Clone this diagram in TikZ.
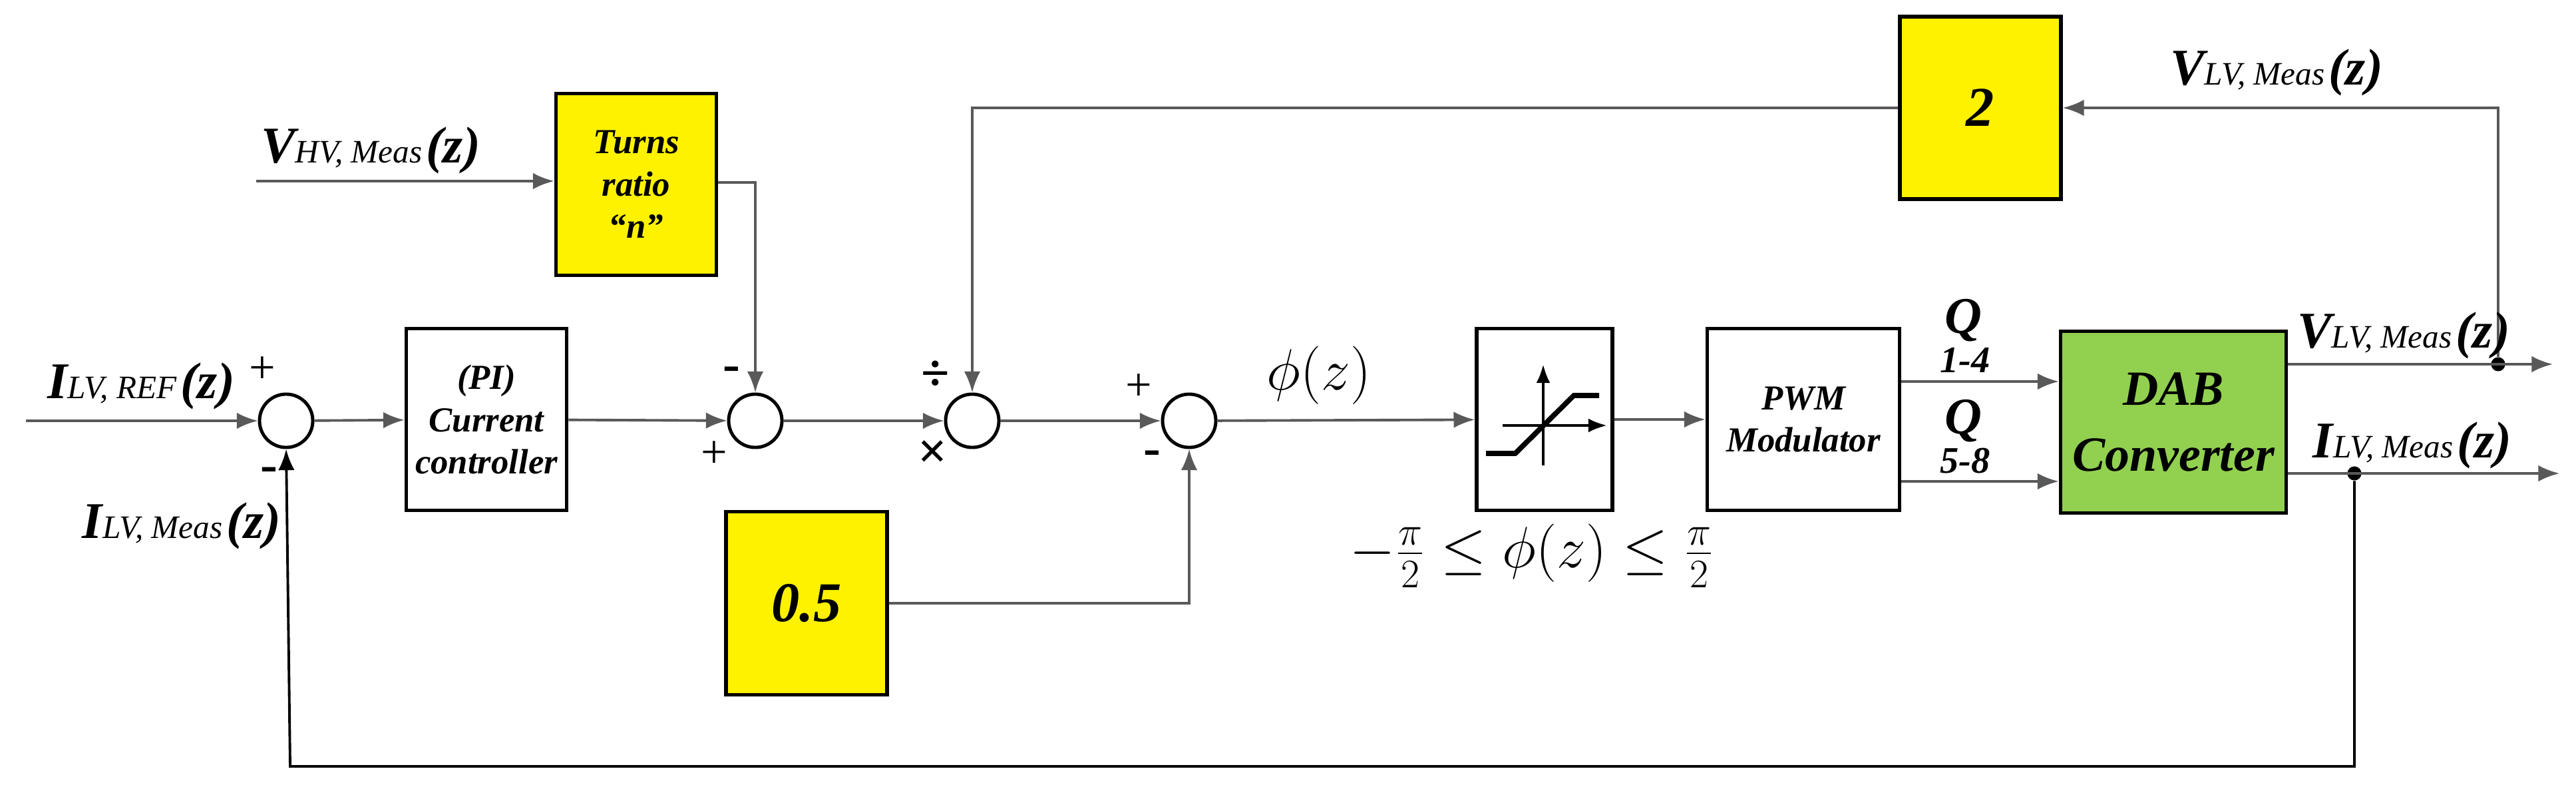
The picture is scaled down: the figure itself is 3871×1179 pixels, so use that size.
\documentclass[tikz,border=0pt]{standalone}
\usepackage{fontspec}
\setmainfont{Liberation Serif}
\usetikzlibrary{arrows.meta}
\definecolor{dabgreen}{RGB}{146,208,80}
\newcommand{\sig}[2]{{\fontsize{22}{24}\selectfont\bfseries\itshape #1}{\fontsize{14}{16}\selectfont\itshape #2}\,{\fontsize{22}{24}\selectfont\bfseries\itshape (z)}}
\begin{document}
\begin{tikzpicture}[x=0.01cm,y=-0.01cm,
  blk/.style={draw=black,line width=1.6pt,inner sep=0pt,align=center,font=\bfseries\itshape\fontsize{15}{18}\selectfont},
  ybl/.style={blk,fill=yellow},
  sum/.style={draw=black,line width=1.4pt,circle,minimum size=0.8cm,inner sep=0pt},
  con/.style={draw=black!65,line width=1.1pt},
  arr/.style={con,-{Latex[length=9pt,width=7pt]}},
  sg/.style={font=\fontsize{20}{22}\selectfont},
  sgb/.style={font=\bfseries\fontsize{22}{22}\selectfont},
  dot/.style={circle,fill=black,inner sep=0pt,minimum size=6pt}]
\path[use as bounding box,fill=white] (0,0) rectangle (3871,1179);
% blocks
\node[ybl,minimum width=2.41cm,minimum height=2.73cm] (tr) at (956,277) {Turns\\ratio\\``n''};
\node[blk,minimum width=2.41cm,minimum height=2.73cm] (pi) at (731,630) {(PI)\\Current\\controller};
\node[ybl,minimum width=2.42cm,minimum height=2.75cm,font=\bfseries\itshape\fontsize{24}{26}\selectfont] (half) at (1212,906) {0.5};
\node[ybl,minimum width=2.42cm,minimum height=2.74cm,font=\bfseries\itshape\fontsize{24}{26}\selectfont] (two) at (2976,162) {2};
\node[blk,minimum width=2.04cm,minimum height=2.73cm] (sat) at (2321,630) {};
\node[blk,minimum width=2.89cm,minimum height=2.73cm] (pwm) at (2710,630) {PWM\\Modulator};
\node[blk,fill=dabgreen,minimum width=3.39cm,minimum height=2.73cm,font=\bfseries\itshape\fontsize{21}{28}\selectfont] (dab) at (3266,634) {DAB\\Converter};
% saturation symbol
\draw[line width=1.3pt,-{Latex[length=8pt,width=6pt]}] (2319,699) -- (2319,547);
\draw[line width=1.3pt,-{Latex[length=8pt,width=6pt]}] (2258,639) -- (2415,639);
\draw[line width=2.2pt] (2233,681) -- (2277,681) -- (2365,594) -- (2403,594);
% sums
\node[sum] (s1) at (430,632) {};
\node[sum] (s2) at (1135,632) {};
\node[sum] (s3) at (1461,632) {};
\node[sum] (s4) at (1787,632) {};
% coordinates
\coordinate (in) at (39,632);
\coordinate (vin) at (385,272);
\coordinate (vo) at (3836,547);
\coordinate (io) at (3846,711);
\node[dot] (dv) at (3754,547) {};
\node[dot] (di) at (3538,711) {};
% connectors
\draw[arr] (in) -- (s1);
\draw[arr] (s1) -- (pi);
\draw[arr] (pi) -- (s2);
\draw[arr] (s2) -- (s3);
\draw[arr] (s3) -- (s4);
\draw[arr] (s4) -- (sat);
\draw[arr] (sat) -- (pwm);
\draw[arr] (vin) -- (tr.west |- vin);
\draw[arr] (tr.east |- 0,274) -| (s2.north);
\draw[arr] (two.west) -| (s3.north);
\draw[arr] (half.east) -| (s4.south);
\draw[arr] (pwm.east |- 0,573) -- (dab.west |- 0,573);
\draw[arr] (pwm.east |- 0,723) -- (dab.west |- 0,723);
\draw[arr] (dab.east |- dv) -- (vo);
\draw[arr] (dab.east |- di) -- (io);
\draw[arr] (dv) |- (two.east);
\draw[arr,draw=black] (di) |- (436,1151) -- (s1.south);
% labels
\node at (557,226) {\sig{V}{HV, Meas}};
\node at (212,580) {\sig{I}{LV, REF}};
\node at (273,790) {\sig{I}{LV, Meas}};
\node at (3421,109) {\sig{V}{LV, Meas}};
\node at (3612,504) {\sig{V}{LV, Meas}};
\node at (3625,669) {\sig{I}{LV, Meas}};
\node[sg] at (394,556) {+};
\node[sgb] at (404,713) {-};
\node[sgb] at (1099,562) {-};
\node[sg] at (1073,683) {+};
\node[sgb] at (1406,564) {÷};
\node[sgb] at (1402,683) {×};
\node[sg] at (1711,582) {+};
\node[sgb] at (1731,688) {-};
\node[font=\fontsize{26}{28}\selectfont] at (1982,564) {$\phi(z)$};
\node[font=\fontsize{24}{28}\selectfont] at (2302,835) {$-\frac{\pi}{2}\le\phi(z)\le\frac{\pi}{2}$};
\node[font=\bfseries\itshape\fontsize{22}{24}\selectfont] at (2950,481) {Q};
\node[font=\bfseries\itshape\fontsize{16}{18}\selectfont] at (2953,541) {1-4};
\node[font=\bfseries\itshape\fontsize{22}{24}\selectfont] at (2950,632) {Q};
\node[font=\bfseries\itshape\fontsize{16}{18}\selectfont] at (2953,692) {5-8};
\end{tikzpicture}
\end{document}
